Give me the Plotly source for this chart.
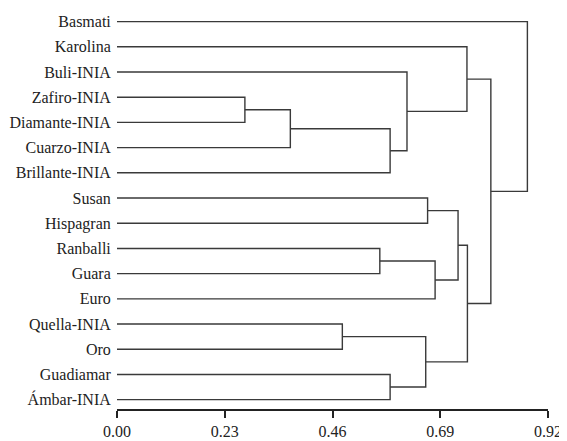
import plotly.graph_objects as go

# Leaves, top to bottom
leaves = ["Basmati", "Karolina", "Buli-INIA", "Zafiro-INIA", "Diamante-INIA",
          "Cuarzo-INIA", "Brillante-INIA", "Susan", "Hispagran", "Ranballi",
          "Guara", "Euro", "Quella-INIA", "Oro", "Guadiamar", "Ámbar-INIA"]

# Merges: (left child, right child, distance); ints >= 100 refer to earlier merges (100 + index)
merge_left = ["Zafiro-INIA", 100, 101, "Buli-INIA", "Karolina", "Susan", "Ranballi", 106,
              105, "Quella-INIA", "Guadiamar", 109, 108, 104, "Basmati"]
merge_right = ["Diamante-INIA", "Cuarzo-INIA", "Brillante-INIA", 102, 103, "Hispagran", "Guara",
               "Euro", 107, "Oro", "Ámbar-INIA", 110, 111, 112, 113]
merge_height = [0.273, 0.370, 0.583, 0.619, 0.747, 0.663, 0.561, 0.679,
                0.728, 0.481, 0.583, 0.659, 0.748, 0.798, 0.876]

tick_vals = [0.0, 0.23, 0.46, 0.69, 0.92]
tick_text = ["0.00", "0.23", "0.46", "0.69", "0.92"]

pos = {}  # node -> (x height, y position)
for i, name in enumerate(leaves):
    pos[name] = (0.0, i)

xs, ys = [], []
for k, (a, b, h) in enumerate(zip(merge_left, merge_right, merge_height)):
    xa, ya = pos[a]
    xb, yb = pos[b]
    xs += [xa, h, h, xb, None]
    ys += [ya, ya, yb, yb, None]
    pos[100 + k] = (h, (ya + yb) / 2)

fig = go.Figure()
fig.add_trace(go.Scatter(x=xs, y=ys, mode="lines",
                         line=dict(color="#3a3a3a", width=1.4),
                         hoverinfo="skip", showlegend=False))

font = dict(family="Liberation Serif", size=16, color="#222")
fig.update_layout(
    width=559, height=433,
    margin=dict(l=109, r=19, t=4, b=32),
    paper_bgcolor="white", plot_bgcolor="white",
    font=font,
    xaxis=dict(range=[0, 0.92], tickvals=tick_vals, ticktext=tick_text,
               showgrid=False, zeroline=False, showline=True, linecolor="#222",
               linewidth=2, ticks="outside", ticklen=7, tickwidth=2, tickcolor="#222",
               tickfont=font, automargin=False),
    yaxis=dict(range=[15.37, -0.38], tickvals=list(range(len(leaves))), ticktext=leaves,
               showgrid=False, zeroline=False, showline=False, ticks="outside",
               ticklen=2, tickcolor="rgba(0,0,0,0)", tickfont=font, automargin=False),
)
fig.write_html("out.html")
